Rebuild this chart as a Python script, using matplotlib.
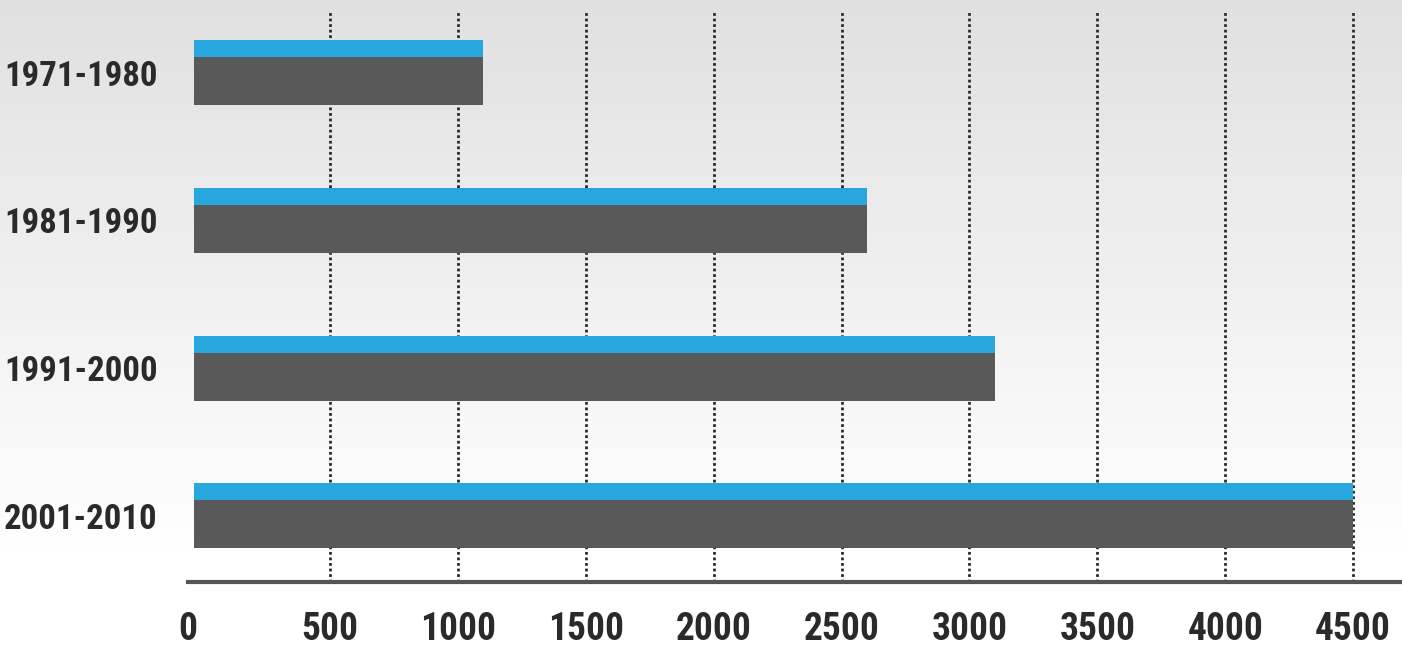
import numpy as np
import matplotlib
matplotlib.use('Agg')
import matplotlib.pyplot as plt
import matplotlib.transforms as mtrans

# data
periods = ['1971-1980', '1981-1990', '1991-2000', '2001-2010']
values = [1100, 2600, 3100, 4500]
xticks = [0, 500, 1000, 1500, 2000, 2500, 3000, 3500, 4000, 4500]

blue = '#27a7de'
dark = '#595959'
txt = '#2a2a2a'
fnt = ['Roboto Condensed', 'DejaVu Sans']

fig = plt.figure(figsize=(14.02, 6.5), dpi=100)

# light grey to white background
bg = fig.add_axes([0, 0, 1, 1])
grad = np.clip(np.linspace(0, 1, 256) / 0.85, 0, 1)
shade = 0.88 + (1.0 - 0.88) * grad
img = np.repeat(np.dstack([shade, shade, shade]).reshape(256, 1, 3), 4, axis=1)
bg.imshow(img, aspect='auto', extent=[0, 1, 0, 1], origin='upper')
bg.set_axis_off()

ax = fig.add_axes([188/1402, (650-582)/650, 1 - 188/1402, (582-10)/650])
ax.set_facecolor('none')

y = np.arange(len(periods))
x0 = -32  # bars start a little left of zero
ax.barh(y - 0.1625, np.array(values) - x0, left=x0, height=0.115,
        color=blue, zorder=3)
ax.barh(y + 0.0575, np.array(values) - x0, left=x0, height=0.325,
        color=dark, zorder=3)

ax.set_xlim(-55, 4691)
ax.set_ylim(3.447, -0.423)

ax.set_xticks(xticks)
ax.set_xticklabels([str(t) for t in xticks])
ax.set_yticks(y)
ax.set_yticklabels(periods)
ax.tick_params(length=0, labelcolor=txt)
ax.tick_params(axis='y', pad=22, labelsize=25)
ax.tick_params(axis='x', pad=21, labelsize=27)
for lb in ax.get_xticklabels() + ax.get_yticklabels():
    lb.set_family(fnt)
    lb.set_fontweight('bold')
# the zero label sits a bit left
ax.get_xticklabels()[0].set_transform(
    ax.get_xticklabels()[0].get_transform()
    + mtrans.ScaledTranslation(-0.14, 0, fig.dpi_scale_trans))

for t in xticks[1:]:
    ax.axvline(t, color='#2a2a2a', lw=2, ls=(0, (1, 1)), zorder=1)

for s in ['top', 'right', 'left']:
    ax.spines[s].set_visible(False)
ax.spines['bottom'].set_color('#555555')
ax.spines['bottom'].set_linewidth(3)

fig.savefig('out.png', dpi=100)
